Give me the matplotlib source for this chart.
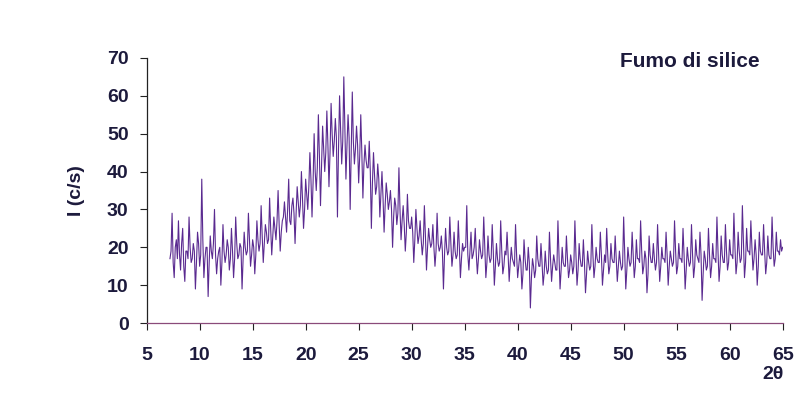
import numpy as np
import matplotlib
matplotlib.use("Agg")
import matplotlib.pyplot as plt

# Scan grid (2theta, degrees): readings every 0.1 deg from 7.2 to 65.0
two_theta_start = 7.2
two_theta_step = 0.1

# Intensity readings (c/s) at 7.2, 7.4, 7.6, ... (even steps)
intensity_even = [
    17, 29, 12, 22,
    27, 14, 25, 11, 19,
    28, 16, 21, 9, 24,
    15, 38, 12, 20, 7,
    23, 17, 30, 13, 19,
    10, 26, 16, 22, 14,
    25, 12, 28, 17, 21,
    9, 24, 18, 29, 15,
    22, 13, 27, 19, 31,
    16, 26, 21, 33, 18,
    28, 22, 35, 19, 27,
    32, 24, 38, 26, 33,
    21, 36, 28, 40, 25,
    38, 30, 45, 28, 50,
    35, 55, 31, 52, 40,
    56, 36, 58, 44, 54,
    28, 60, 42, 65, 38,
    55, 30, 61, 42, 52,
    37, 55, 33, 47, 41,
    48, 25, 45, 34, 42,
    28, 40, 24, 37, 30,
    35, 20, 33, 26, 41,
    22, 31, 19, 34, 25,
    28, 16, 30, 21, 27,
    18, 31, 14, 25, 20,
    26, 15, 29, 19, 23,
    9, 25, 18, 28, 15,
    24, 17, 27, 12, 21,
    20, 31, 14, 24, 18,
    25, 13, 22, 17, 28,
    12, 23, 16, 26, 10,
    21, 15, 27, 13, 19,
    24, 11, 20, 16, 26,
    12, 18, 9, 22, 14,
    20, 4, 17, 12, 23,
    15, 21, 10, 19, 13,
    24, 11, 18, 14, 27,
    9, 20, 15, 23, 12,
    18, 13, 27, 10, 21,
    15, 22, 8, 19, 14,
    26, 12, 20, 16, 24,
    10, 18, 25, 13, 21,
    16, 23, 11, 19, 14,
    28, 9, 20, 15, 24,
    12, 22, 17, 27, 13,
    19, 8, 23, 16, 21,
    14, 26, 11, 20, 17,
    24, 10, 19, 15, 27,
    13, 21, 17, 25, 9,
    20, 15, 26, 12, 22,
    17, 24, 6, 19, 14,
    25, 12, 21, 17, 28,
    11, 23, 16, 26, 14,
    22, 18, 29, 13, 24,
    16, 31, 12, 25, 19,
    27, 14, 22, 10, 24,
    18, 26, 13, 23, 17,
    28, 15, 24, 19, 22,
    20,
]

# Intensity readings (c/s) at 7.3, 7.5, 7.7, ... (odd steps)
intensity_odd = [
    19, 16, 20, 17,
    18, 21, 15, 19, 17,
    20, 17, 19, 16, 21,
    18, 22, 17, 20, 16,
    19, 21, 18, 17, 20,
    16, 19, 18, 20, 17,
    19, 17, 21, 18, 20,
    17, 20, 19, 22, 18,
    20, 18, 22, 21, 23,
    21, 24, 22, 25, 23,
    25, 27, 26, 24, 28,
    28, 30, 27, 31, 29,
    29, 32, 31, 33, 30,
    34, 36, 38, 37, 40,
    41, 44, 42, 46, 45,
    47, 45, 50, 48, 49,
    46, 51, 48, 52, 47,
    49, 45, 48, 46, 47,
    44, 45, 42, 43, 41,
    40, 37, 39, 36, 38,
    34, 33, 31, 34, 32,
    30, 28, 31, 29, 30,
    27, 26, 24, 27, 25,
    24, 22, 25, 23, 22,
    21, 23, 20, 22, 21,
    20, 19, 21, 20, 19,
    18, 20, 19, 21, 18,
    19, 18, 20, 17, 19,
    20, 18, 19, 17, 20,
    18, 17, 19, 18, 20,
    16, 18, 17, 19, 15,
    17, 16, 19, 15, 18,
    18, 16, 17, 15, 18,
    15, 16, 13, 17, 14,
    16, 12, 15, 14, 17,
    15, 16, 13, 15, 14,
    17, 15, 16, 14, 18,
    14, 16, 15, 17, 14,
    16, 15, 18, 14, 17,
    15, 16, 13, 16, 15,
    18, 15, 17, 16, 18,
    14, 16, 18, 15, 17,
    16, 17, 15, 16, 15,
    18, 14, 17, 16, 18,
    15, 17, 16, 19, 15,
    17, 13, 18, 16, 17,
    16, 18, 15, 17, 16,
    18, 15, 17, 16, 19,
    15, 17, 16, 18, 14,
    17, 16, 18, 15, 18,
    16, 18, 13, 17, 15,
    18, 15, 17, 16, 19,
    15, 18, 16, 19, 16,
    18, 17, 20, 16, 19,
    17, 21, 16, 19, 18,
    20, 17, 18, 15, 19,
    18, 19, 16, 18, 17,
    20, 17, 19, 18, 19,
]

x_ticks = [5, 10, 15, 20, 25, 30, 35, 40, 45, 50, 55, 60, 65]
y_ticks = [0, 10, 20, 30, 40, 50, 60, 70]
title = "Fumo di silice"
x_label = "2θ"
y_label = "I (c/s)"

# interleave the two reading sets into one scan
intensity = np.empty(len(intensity_even) + len(intensity_odd))
intensity[0::2] = intensity_even
intensity[1::2] = intensity_odd
two_theta = np.round(two_theta_start + two_theta_step * np.arange(len(intensity)), 2)

text_color = "#1c1a3c"
plt.rcParams['font.family'] = ['Liberation Sans Narrow', 'Liberation Sans', 'DejaVu Sans']

fig = plt.figure(figsize=(7.97, 3.94), dpi=100)
ax = fig.add_axes([0.184, 0.180, 0.798, 0.673])
ax.plot(two_theta, intensity, color="#5a2a90", linewidth=0.8)

ax.set_xlim(5, 65)
ax.set_ylim(0, 70)
ax.set_xticks(x_ticks)
ax.set_yticks(y_ticks)
for s in ("top", "right"):
    ax.spines[s].set_visible(False)
ax.spines["left"].set_color("#222222")
ax.spines["bottom"].set_color("#8a4a7a")
ax.spines["left"].set_linewidth(0.9)
ax.spines["bottom"].set_linewidth(0.9)
ax.tick_params(axis="both", direction="out", length=5, width=0.8, colors="#222222",
               labelcolor=text_color, labelsize=14)
ax.tick_params(axis="x", pad=12)
ax.tick_params(axis="y", pad=8)
for lab in ax.get_xticklabels() + ax.get_yticklabels():
    lab.set_fontweight("bold")

ax.set_ylabel(y_label, fontsize=14, fontweight="bold", color=text_color, labelpad=16)
fig.text(0.970, 0.028, x_label, fontsize=14, fontweight="bold", color=text_color,
         ha="center", va="bottom")
fig.text(0.865, 0.843, title, fontsize=15, fontweight="bold", color=text_color,
         ha="center", va="center")

fig.savefig("out.png", dpi=100, facecolor="white")
